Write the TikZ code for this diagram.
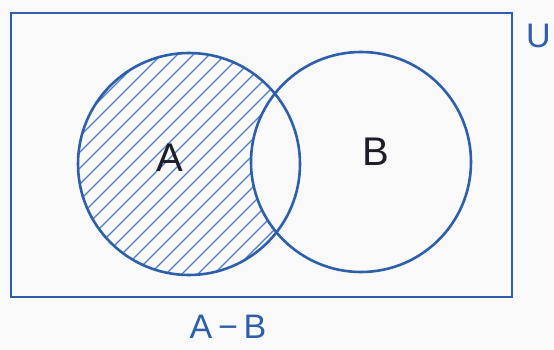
\documentclass[tikz,border=0pt]{standalone}
\usepackage{fontspec}
\setmainfont{Liberation Sans}
\definecolor{ink}{RGB}{45,95,170}
\definecolor{hatch}{RGB}{80,125,195}
\definecolor{paper}{RGB}{249,249,249}
\definecolor{pen}{RGB}{30,30,40}
\tikzset{
  setline/.style={draw=ink, line width=2.6pt},
  hatchline/.style={draw=hatch, line width=1.3pt},
  biglabel/.style={font=\fontsize{40}{40}\selectfont, text=pen, inner sep=0pt},
  inklabel/.style={font=\fontsize{34}{34}\selectfont, text=ink, inner sep=0pt}
}
\begin{document}
\begin{tikzpicture}[x=1pt,y=-1pt]
\fill[paper] (0,0) rectangle (554,350);
\useasboundingbox (0,0) rectangle (554,350);
% hatching of A - B
\begin{scope}
  \clip (189,164) circle (111);
  \begin{scope}[even odd rule]
    \clip (0,0) rectangle (554,350) (361,162) circle (110);
    \foreach \c in {200,216,...,520} {
      \draw[hatchline] (\c-350,350) -- (\c,0);
    }
  \end{scope}
\end{scope}
\node[setline, rectangle, minimum width=501pt, minimum height=284pt, inner sep=0pt] (U) at (261.5,155) {};
\node[setline, circle, minimum size=222pt, inner sep=0pt] (cA) at (189,164) {};
\node[setline, circle, minimum size=220pt, inner sep=0pt] (cB) at (361,162) {};
\node[biglabel] (lA) at (170,158) {A};
\node[biglabel] (lB) at (376,152) {B};
\node[inklabel, anchor=west] (lU) at (526,36) {U};
\node[inklabel] (lAB) at (228,327) {A\,\char"2212\,B};
\end{tikzpicture}
\end{document}
